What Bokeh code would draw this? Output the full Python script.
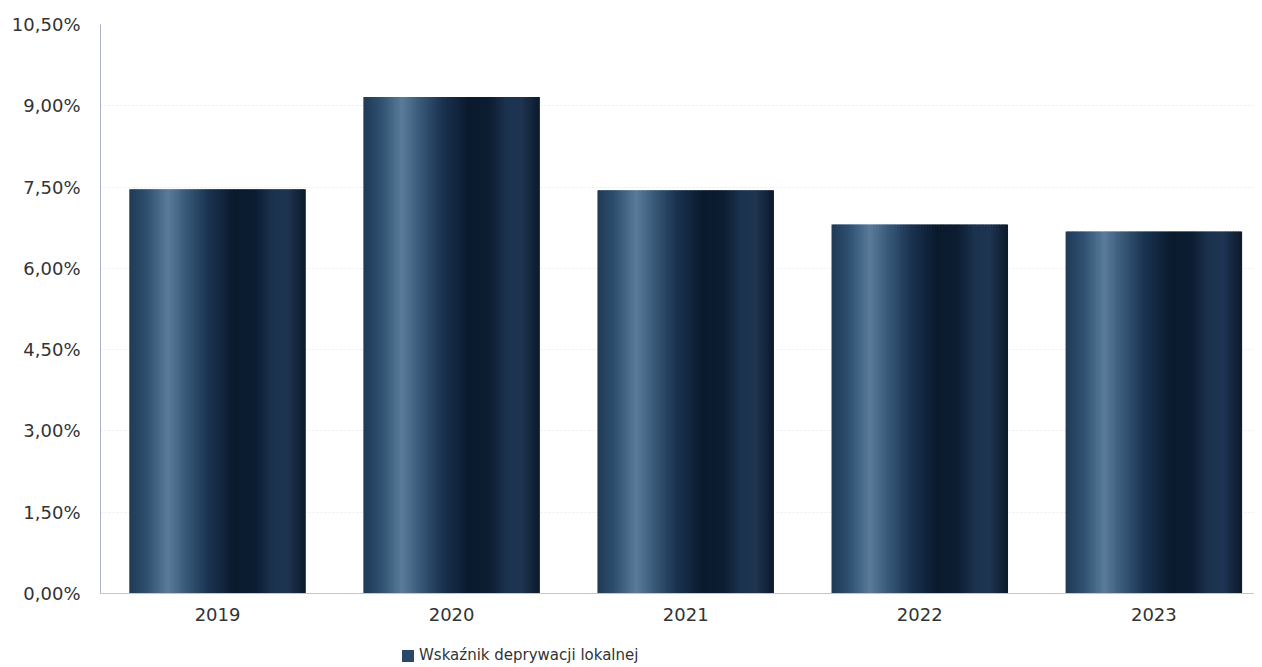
import numpy as np
from bokeh.plotting import figure
from bokeh.layouts import column
from bokeh.models import (ColumnDataSource, FixedTicker, CustomJSTickFormatter,
                          Legend, LegendItem, Range1d)
from bokeh.embed import file_html
from bokeh.resources import INLINE

# ---- data ----
years = ["2019", "2020", "2021", "2022", "2023"]
values = [7.46, 9.16, 7.44, 6.81, 6.68]
y_ticks = [0, 1.5, 3.0, 4.5, 6.0, 7.5, 9.0, 10.5]
series_name = "Wskaźnik deprywacji lokalnej"

# ---- style: horizontal "cylinder" gradient stops ----
stops_pos = [0.0, 0.10, 0.22, 0.32, 0.45, 0.60, 0.72, 0.82, 0.90, 1.0]
stops_col = ["#1f3a56", "#2f5070", "#5a7c9a", "#3a5a7a", "#1a3350",
             "#0b1a2d", "#0d1d32", "#1c3350", "#1f3552", "#0c1a2c"]

def hex2rgb(h):
    h = h.lstrip("#")
    return np.array([int(h[i:i + 2], 16) for i in (0, 2, 4)], dtype=float)

stops_rgb = np.array([hex2rgb(c) for c in stops_col])

def grad_color(t):
    r = np.interp(t, stops_pos, stops_rgb[:, 0])
    g = np.interp(t, stops_pos, stops_rgb[:, 1])
    b = np.interp(t, stops_pos, stops_rgb[:, 2])
    return "#%02x%02x%02x" % (int(round(r)), int(round(g)), int(round(b)))

bar_w = 0.75
n_strips = 110
strip_w = bar_w / n_strips
xs, tops, cols = [], [], []
for i, v in enumerate(values):
    for k in range(n_strips):
        t = (k + 0.5) / n_strips
        xs.append(i - bar_w / 2 + (k + 0.5) * strip_w)
        tops.append(v)
        cols.append(grad_color(t))
src = ColumnDataSource(dict(x=xs, top=tops, color=cols))

FONT = "DejaVu Sans"

p = figure(width=1254, height=633, output_backend="svg", toolbar_location=None,
           x_range=Range1d(-0.5, 4.43), y_range=Range1d(0, 10.5),
           min_border_left=100, min_border_right=0, min_border_top=24,
           min_border_bottom=40)
p.outline_line_color = None
p.background_fill_color = "white"

p.vbar(x="x", top="top", bottom=0, width=strip_w * 1.6, source=src,
       fill_color="color", line_color=None)

# axes
p.xaxis.ticker = FixedTicker(ticks=list(range(len(years))))
p.xaxis.major_label_overrides = {i: y for i, y in enumerate(years)}
p.yaxis.ticker = FixedTicker(ticks=y_ticks)
p.yaxis.formatter = CustomJSTickFormatter(
    code="return tick.toFixed(2).replace('.', ',') + '%';")
for ax in (p.xaxis[0], p.yaxis[0]):
    ax.major_tick_line_color = None
    ax.minor_tick_line_color = None
    ax.major_label_text_font = FONT
    ax.major_label_text_font_size = "18px"
    ax.major_label_text_color = "#333333"
p.yaxis.axis_line_color = "#aab4c8"
p.xaxis.axis_line_color = "#c4c4d4"
p.yaxis.major_label_standoff = 14
p.xaxis.major_label_standoff = 8

p.xgrid.grid_line_color = None
p.ygrid.grid_line_color = "#ebebeb"
p.ygrid.grid_line_dash = "2 2"

# legend strip below the chart
p2 = figure(width=1254, height=34, output_backend="svg", toolbar_location=None,
            x_range=Range1d(0, 1), y_range=Range1d(0, 1),
            x_axis_location=None, y_axis_location=None,
            min_border_left=0, min_border_right=0, min_border_top=0,
            min_border_bottom=0)
p2.grid.visible = False
p2.outline_line_color = None
p2.border_fill_color = "white"
leg_r = p2.vbar(x=[0.5], top=[0], bottom=[0], width=0.01,
                fill_color="#2c4868", line_color=None)
legend = Legend(items=[LegendItem(label=series_name, renderers=[leg_r])],
                location=(300, 3), orientation="horizontal",
                border_line_color=None, background_fill_alpha=0,
                label_text_font=FONT, label_text_font_size="15px",
                label_text_color="#333333", glyph_width=15, glyph_height=15,
                label_standoff=4, padding=4, margin=0)
p2.add_layout(legend, "center")

layout = column(p, p2, spacing=0)
open("out.html", "w").write(file_html(layout, INLINE))
